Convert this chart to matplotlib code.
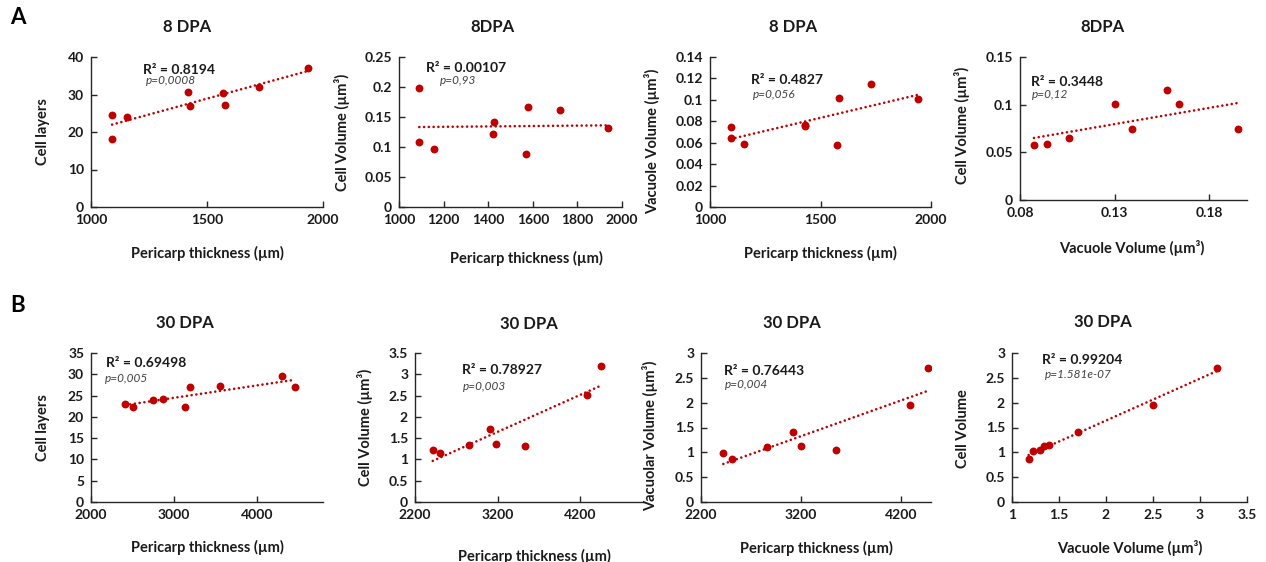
import numpy as np
import matplotlib
matplotlib.use("Agg")
import matplotlib.pyplot as plt
from matplotlib.ticker import FuncFormatter

# ---- data ----
# row A, 8 DPA
a_thick = [1091, 1091, 1155, 1420, 1428, 1570, 1578, 1722, 1937]
a_layers = [24.6, 18.1, 24.1, 30.8, 27.0, 30.4, 27.2, 32.1, 37.2]
a_cellvol = [0.198, 0.108, 0.096, 0.121, 0.141, 0.088, 0.166, 0.161, 0.131]
a_vac_thick = [1094, 1094, 1156, 1428, 1432, 1573, 1582, 1727, 1942]
a_vacvol = [0.0744, 0.0647, 0.059, 0.077, 0.076, 0.0575, 0.102, 0.115, 0.1006]
a4_x = [0.0874, 0.0944, 0.106, 0.130, 0.1393, 0.1575, 0.1642, 0.1951]
a4_y = [0.0575, 0.0592, 0.0655, 0.1002, 0.0747, 0.1153, 0.1010, 0.075]

# row B, 30 DPA
b1_x = [2416, 2508, 2744, 2864, 3136, 3200, 3552, 4304, 4464]
b1_y = [23.1, 22.3, 24.0, 24.1, 22.3, 26.9, 27.3, 29.7, 26.9]
b2_x = [2415, 2508, 2856, 3111, 3184, 3532, 4285, 4447]
b2_y = [1.23, 1.16, 1.33, 1.71, 1.37, 1.31, 2.52, 3.19]
b3_x = [2423, 2513, 2863, 3117, 3197, 3550, 4290, 4467]
b3_y = [0.99, 0.86, 1.11, 1.41, 1.13, 1.05, 1.95, 2.69]
b4_x = [1.177, 1.22, 1.30, 1.343, 1.39, 1.707, 2.50, 3.18]
b4_y = [0.87, 1.03, 1.05, 1.12, 1.15, 1.41, 1.95, 2.70]

titles = ["8 DPA", "8DPA", "8 DPA", "8DPA", "30 DPA", "30 DPA", "30 DPA", "30 DPA"]
xlabels = ["Pericarp thickness (µm)"] * 3 + ["Vacuole Volume (µm³)"] + \
          ["Pericarp thickness (µm)"] * 3 + ["Vacuole Volume (µm³)"]
ylabels = ["Cell layers", "Cell Volume (µm³)", "Vacuole Volume (µm³)", "Cell Volume (µm³)",
           "Cell layers", "Cell Volume (µm³)", "Vacuolar Volume (µm³)", "Cell Volume"]
r2_texts = ["R² = 0.8194", "R² = 0.00107", "R² = 0.4827", "R² = 0.3448",
            "R² = 0.69498", "R² = 0.78927", "R² = 0.76443", "R² = 0.99204"]
p_texts = ["p=0,0008", "p=0,93", "p=0,056", "p=0,12",
           "p=0,005", "p=0,003", "p=0,004", "p=1.581e-07"]

series = [(a_thick, a_layers), (a_thick, a_cellvol), (a_vac_thick, a_vacvol), (a4_x, a4_y),
          (b1_x, b1_y), (b2_x, b2_y), (b3_x, b3_y), (b4_x, b4_y)]

xlims = [(1000, 2000), (1000, 2000), (1000, 2000), (0.08, 0.2),
         (2000, 4800), (2200, 4960), (2200, 4500), (1, 3.5)]
xticks = [[1000, 1500, 2000], [1000, 1200, 1400, 1600, 1800, 2000], [1000, 1500, 2000],
          [0.08, 0.13, 0.18], [2000, 3000, 4000], [2200, 3200, 4200], [2200, 3200, 4200],
          [1, 1.5, 2, 2.5, 3, 3.5]]
ylims = [(0, 40), (0, 0.25), (0, 0.14), (0, 0.15), (0, 35), (0, 3.5), (0, 3), (0, 3)]
ysteps = [10, 0.05, 0.02, 0.05, 5, 0.5, 0.5, 0.5]

# ---- layout (pixels in a 1266x562 canvas) ----
W, H = 1266, 562
axes_px = [(91, 57, 323, 207), (399, 57, 622, 207), (710, 57, 931, 207), (1020, 57, 1247, 200),
           (91, 353, 323, 502), (415, 353, 643, 502), (701, 353, 931, 502), (1012, 353, 1247, 502)]
title_px = [(187, 27), (492, 27), (793, 27), (1102, 27), (185, 323), (529, 324), (792, 323), (1103, 322)]
xlab_px = [(207, 253), (526, 258), (820, 253), (1132, 248), (207, 547), (534, 556), (816, 548), (1130, 548)]
ylab_px = [(43, 132), (342, 132), (652, 141), (962, 125), (43, 428), (365, 427), (650, 436), (963, 429)]
r2_px = [(143, 70), (426, 68), (751, 80), (1031, 82), (106, 363), (462, 370), (724, 371), (1042, 360)]
p_px = [(146, 81), (440, 80), (753, 94), (1032, 94), (105, 379), (463, 387), (725, 385), (1045, 374)]

RED = "#C00000"
INK = "#1a1a1a"


def fx(x):
    return x / W


def fy(y):
    return 1 - y / H


fig = plt.figure(figsize=(W / 100, H / 100), dpi=100)
plt.rcParams['font.family'] = ['Lato', 'DejaVu Sans']

fmt = FuncFormatter(lambda v, pos: f"{v:g}")

for i, (xs, ys) in enumerate(series):
    l, t, r, b = axes_px[i]
    ax = fig.add_axes([fx(l), fy(b), (r - l) / W, (b - t) / H])

    ax.scatter(xs, ys, s=32, color=RED, zorder=3, linewidths=0)
    # linear trend line, like the spreadsheet's
    k, c = np.polyfit(xs, ys, 1)
    xx = np.array([min(xs), max(xs)])
    ax.plot(xx, k * xx + c, color=RED, lw=1.9, linestyle=(0, (0.01, 1.8)),
            dash_capstyle='round', zorder=2)

    ax.set_xlim(*xlims[i])
    ax.set_ylim(*ylims[i])
    ax.set_xticks(xticks[i])
    ax.set_yticks(np.arange(ylims[i][0], ylims[i][1] + ysteps[i] / 2, ysteps[i]))
    ax.xaxis.set_major_formatter(fmt)
    ax.yaxis.set_major_formatter(fmt)
    for side in ['top', 'right']:
        ax.spines[side].set_visible(False)
    for side in ['left', 'bottom']:
        ax.spines[side].set_linewidth(1.0)
        ax.spines[side].set_color("#262626")
    ax.tick_params(direction='in', length=4, width=1.0, color="#262626",
                   labelsize=10, pad=5)
    for lab in ax.get_xticklabels() + ax.get_yticklabels():
        lab.set_fontweight('bold')
        lab.set_color(INK)

    fig.text(fx(title_px[i][0]), fy(title_px[i][1]), titles[i], ha='center', va='center',
             fontsize=12, fontweight='bold', color=INK)
    fig.text(fx(xlab_px[i][0]), fy(xlab_px[i][1]), xlabels[i], ha='center', va='center',
             fontsize=10.5, fontweight='bold', color=INK)
    fig.text(fx(ylab_px[i][0]), fy(ylab_px[i][1]), ylabels[i], ha='center', va='center',
             rotation=90, fontsize=10.5, fontweight='bold', color=INK)
    fig.text(fx(r2_px[i][0]), fy(r2_px[i][1]), r2_texts[i], ha='left', va='center',
             fontsize=10, fontweight='bold', color=INK)
    fig.text(fx(p_px[i][0]), fy(p_px[i][1]), p_texts[i], ha='left', va='center',
             fontsize=8.5, style='italic', color="#404040")

fig.text(fx(10), fy(17), "A", fontsize=16, fontweight='bold', va='center', ha='left')
fig.text(fx(10), fy(306), "B", fontsize=16, fontweight='bold', va='center', ha='left')

fig.savefig("out.png", dpi=100)
